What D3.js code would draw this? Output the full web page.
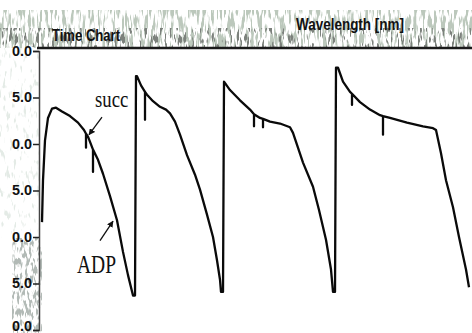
<!DOCTYPE html>
<html><head><meta charset="utf-8">
<script src="https://cdn.jsdelivr.net/npm/d3@7"></script>
<style>html,body{margin:0;padding:0;background:#fff;}svg{display:block;}</style>
</head><body>
<svg id="c" width="472" height="333"></svg>
<script>
// ---- data (time in s, signal value) ----
const segment1 = [[0,-18.4],[1,-13.9],[3,-9.6],[6,-7.2],[10,-6.2],[14,-6.1],[20,-6.5],[28,-7.0],[36,-7.7],[42,-8.5],[44,-8.9],[44,-10.4],[44,-8.9],[46,-9.2],[51,-10.6],[51,-13.0],[51,-10.6],[56,-11.7],[61,-13.2],[68,-15.6],[75,-18.2],[81,-21.6],[86,-24.1],[91,-26.3]];
const segment2 = [[93,-26.3],[94,-2.7],[95,-2.7],[99,-3.7],[103,-4.4],[103,-7.4],[103,-4.4],[105,-4.7],[111,-5.4],[118,-6.0],[124,-6.3],[128,-6.7],[133,-7.6],[138,-9.0],[145,-11.2],[153,-13.3],[158,-14.9],[165,-17.6],[171,-20.0],[175,-22.5],[178,-24.6],[179,-25.9]];
const segment3 = [[181,-25.9],[182,-3.3],[188,-4.2],[198,-5.3],[208,-6.3],[212,-6.8],[212,-8.1],[212,-6.8],[218,-7.2],[221,-7.3],[221,-8.2],[221,-7.3],[228,-7.6],[238,-7.8],[248,-8.2],[251,-8.8],[261,-12.0],[271,-14.6],[277,-17.1],[284,-20.3],[289,-23.5],[291,-25.9]];
const segment4 = [[293,-25.9],[294,-1.8],[296,-1.8],[301,-3.3],[308,-4.4],[310,-4.6],[310,-5.8],[310,-4.6],[318,-5.5],[328,-6.3],[338,-6.9],[341,-7.0],[341,-9.0],[341,-7.0],[348,-7.2],[365,-7.7],[381,-8.1],[391,-8.3],[394,-8.5],[399,-11.0],[404,-13.9],[411,-16.8],[417,-20.0],[424,-23.5],[427,-25.4]];
const trace = [...segment1, ...segment2, ...segment3, ...segment4];

const yTickValues = [0,-5,-10,-15,-20,-25,-30];
const yTickLabels = ["0.0","5.0","0.0","5.0","0.0","5.0","0.0"];
const titleText = "Time Chart";
const headerText = "Wavelength [nm]";
const annotationLabels = ["succ","ADP"];
const annotationText = [[53,-6.0],[35,-23.9]];
const annotationArrowFrom = [[60,-7.1],[58,-20.4]];
const annotationArrowTo = [[47,-9.0],[71,-18.3]];

// ---- drawing ----
const svg = d3.select("#c");
const x = d3.scaleLinear().domain([0,430]).range([42,472]);
const y = d3.scaleLinear().domain([0,-30]).range([51,330]);

const defs = svg.append("defs");
function noiseFilter(id, freq, seed, rgb, a, b){
  const f = defs.append("filter").attr("id",id).attr("x",0).attr("y",0).attr("width","100%").attr("height","100%");
  f.append("feTurbulence").attr("type","fractalNoise").attr("baseFrequency",freq).attr("numOctaves",2).attr("seed",seed).attr("result","t");
  f.append("feColorMatrix").attr("in","t").attr("type","matrix")
   .attr("values",`0 0 0 0 ${rgb[0]}  0 0 0 0 ${rgb[1]}  0 0 0 0 ${rgb[2]}  ${a} 0 0 0 ${b}`);
}
noiseFilter("noise","0.35 0.06",7,[0.50,0.58,0.50],9,-4.4);
noiseFilter("noise2","0.4 0.09",3,[0.2,0.22,0.2],10,-5.6);
noiseFilter("noise3","0.3 0.1",11,[0.55,0.65,0.58],8,-4.8);
noiseFilter("noise4","0.35 0.12",5,[0.35,0.40,0.37],8,-3.9);

// header texture
svg.append("rect").attr("x",0).attr("y",10).attr("width",472).attr("height",38).attr("filter","url(#noise)");
svg.append("rect").attr("x",0).attr("y",28).attr("width",472).attr("height",19).attr("filter","url(#noise2)");
// left strip texture
svg.append("rect").attr("x",0).attr("y",48).attr("width",40).attr("height",190).attr("filter","url(#noise3)").attr("opacity",0.45);
svg.append("rect").attr("x",12).attr("y",238).attr("width",30).attr("height",95).attr("filter","url(#noise4)").attr("opacity",0.8);

// header texts
svg.append("text").attr("x",52).attr("y",41).text(titleText)
 .attr("font-family","Liberation Sans, Arial, sans-serif").attr("font-weight","bold").attr("font-size",17)
 .attr("textLength",68).attr("lengthAdjust","spacingAndGlyphs").attr("fill","#111");
svg.append("text").attr("x",296).attr("y",30).text(headerText)
 .attr("font-family","Liberation Sans, Arial, sans-serif").attr("font-weight","bold").attr("font-size",16)
 .attr("textLength",108).attr("lengthAdjust","spacingAndGlyphs").attr("fill","#111");

// top frame line
svg.append("line").attr("x1",37).attr("x2",472).attr("y1",48).attr("y2",48).attr("stroke","#1a1a1a").attr("stroke-width",2.5);

// y axis
const yAxis = d3.axisLeft(y).tickValues(yTickValues).tickFormat((d,i)=>yTickLabels[i]).tickSize(6).tickPadding(1);
const ga = svg.append("g").attr("transform","translate(39,0)").call(yAxis);
ga.select(".domain").attr("stroke","#444").attr("stroke-width",1.5);
ga.selectAll(".tick line").attr("stroke","#222").attr("stroke-width",1.5);
ga.selectAll(".tick text").attr("font-family","Liberation Sans, Arial, sans-serif").attr("font-weight","bold")
 .attr("font-size",14).attr("fill","#111").attr("textLength",20).attr("lengthAdjust","spacingAndGlyphs");
ga.selectAll(".tick text").filter((d,i)=>i===yTickValues.length-1).attr("dy","0.05em");

// trace
const line = d3.line().x(d=>x(d[0])).y(d=>y(d[1]));
svg.append("path").datum(trace).attr("d",line).attr("fill","none").attr("stroke","#0a0a0a")
 .attr("stroke-width",2.3).attr("stroke-linejoin","round");

// annotations
defs.append("marker").attr("id","ah").attr("viewBox","0 0 10 10").attr("refX",9).attr("refY",5)
 .attr("markerWidth",5).attr("markerHeight",5).attr("orient","auto")
 .append("path").attr("d","M0,0 L10,5 L0,10 z").attr("fill","#111");
annotationLabels.forEach((lab,i)=>{
  const tx = x(annotationText[i][0]), ty = y(annotationText[i][1]);
  svg.append("text").attr("transform",`translate(${tx},${ty}) scale(0.78,1)`).text(lab)
   .attr("font-family","Liberation Serif, Times New Roman, serif").attr("font-size",lab==="ADP"?25:24).attr("fill","#111");
  svg.append("line").attr("x1",x(annotationArrowFrom[i][0])).attr("y1",y(annotationArrowFrom[i][1]))
   .attr("x2",x(annotationArrowTo[i][0])).attr("y2",y(annotationArrowTo[i][1]))
   .attr("stroke","#111").attr("stroke-width",1.3).attr("marker-end","url(#ah)");
});
</script>
</body></html>
